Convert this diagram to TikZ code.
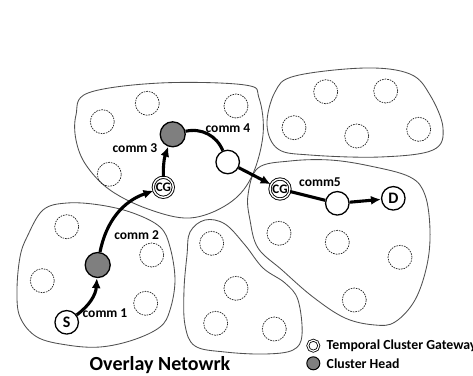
\documentclass[tikz,border=0pt]{standalone}
\usepackage{fontspec}
\setmainfont{Carlito}
\usetikzlibrary{arrows.meta}
\definecolor{HeadGray}{HTML}{7F7F7F}
\definecolor{RimGray}{HTML}{505050}

\begin{document}
\begin{tikzpicture}[
  x=1pt,
  y=-1pt,
  cluster/.style={draw=RimGray,line width=0.85pt},
  member/.style={circle,draw=black!85,dash pattern=on 1.6pt off 1pt,
    line width=0.7pt,minimum size=24pt,inner sep=0},
  peer/.style={circle,draw=black,line width=1.3pt,fill=white,
    minimum size=23.5pt,inner sep=0,font=\bfseries\fontsize{16}{16}\selectfont},
  head/.style={peer,fill=HeadGray,minimum size=25pt},
  gateway/.style={circle,draw=black,double,double distance=1.4pt,line width=0.9pt,
    minimum size=20pt,inner sep=0,font=\bfseries\fontsize{13}{13}\selectfont},
  comm/.style={draw=black,line width=3.1pt},
  hop/.style={comm,-{Latex[length=10pt,width=9pt]}},
  label/.style={font=\bfseries\fontsize{13.5}{14}\selectfont,inner sep=0},
  key/.style={label,font=\bfseries\fontsize{13.8}{14}\selectfont,anchor=west}
]
  \useasboundingbox (0,0) rectangle (473,375);

  % cluster borders
  \draw[cluster] plot[smooth cycle,tension=0.6] coordinates {(76,115) (88,93) (160,83)
    (245,85) (259,98) (263,135) (251,178) (228,204) (190,218) (148,209) (110,190)
    (86,165) (76,140)};
  \draw[cluster] plot[smooth cycle,tension=0.6] coordinates {(267,125) (275,92)
    (295,76) (365,68) (410,74) (430,95) (443,128) (433,150) (380,157) (310,155)
    (278,149)};
  \draw[cluster] plot[smooth cycle,tension=0.6] coordinates {(248,195) (258,168)
    (290,161) (330,160) (370,166) (410,177) (425,195) (430,230) (427,265) (415,300)
    (395,322) (375,325) (345,318) (313,297) (282,270) (258,248) (250,220)};
  \draw[cluster] plot[smooth cycle,tension=0.6] coordinates {(43,210) (67,203)
    (100,205) (133,213) (160,227) (170,247) (175,280) (170,310) (160,327) (133,340)
    (100,347) (67,345) (37,337) (20,317) (17,290) (20,257) (27,237)};
  \draw[cluster] plot[smooth cycle,tension=0.6] coordinates {(190,232) (205,220)
    (225,224) (245,245) (263,268) (285,283) (298,300) (302,335) (293,350) (265,354)
    (225,352) (195,346) (185,325) (184,290) (187,255)};

  % idle members
  \foreach \p [count=\i] in {(102.3,121.7),(147.3,103.3),(236,106),(109.3,174.3),
    (325.7,91.7),(385.7,91),(294,127.7),(356.7,136),(418.7,129.3),
    (279,233.3),(337.3,242.3),(400,257.3),(354.3,300),
    (66.7,226.7),(42.3,280.7),(151.7,255),(145.7,303.3),
    (211.7,243.3),(236,288.3),(215.7,323.3),(274.3,329)}
    \node[member] (m\i) at \p {};

  % route
  \node[peer] (src) at (66.7,322.3) {S};
  \node[head] (ch2) at (97.7,265) {};
  \node[gateway] (cg1) at (163.3,187.3) {CG};
  \node[head] (ch1) at (172.7,134.3) {};
  \node[peer] (r1) at (227.7,162) {};
  \node[gateway] (cg2) at (280,189) {CG};
  \node[peer] (r2) at (337.3,203.3) {};
  \node[peer] (dst) at (393.3,198.3) {D};

  \draw[hop] (src) to[bend right=25] (ch2);
  \draw[hop] (ch2) to[bend left=30] (cg1);
  \draw[hop] (cg1) to[bend left=10] (ch1);
  \draw[comm] (ch1) to[bend left=40] (r1);
  \draw[hop] (r1) -- (cg2);
  \draw[comm] (cg2) -- (r2);
  \draw[hop] (r2) -- (dst);

  \node[label] (l1) at (105,312.7) {comm 1};
  \node[label] (l2) at (136.7,235) {comm 2};
  \node[label] (l3) at (135,148) {comm 3};
  \node[label] (l4) at (228,128) {comm 4};
  \node[label] (l5) at (320,182.3) {comm5};

  % legend
  \node[gateway,minimum size=11pt,line width=0.8pt,double distance=1.2pt] (kgw) at (313.3,345.7) {};
  \node[circle,draw=black,line width=1pt,fill=HeadGray,minimum size=13pt,inner sep=0] (kch) at (313.3,363.3) {};
  \node[key] (tgw) at (326.5,345.7) {Temporal Cluster Gateway};
  \node[key] (tch) at (326.5,363.3) {Cluster Head};

  \node[font=\bfseries\fontsize{20}{20}\selectfont,inner sep=0] (title) at (160,365) {Overlay Netowrk};
\end{tikzpicture}
\end{document}
